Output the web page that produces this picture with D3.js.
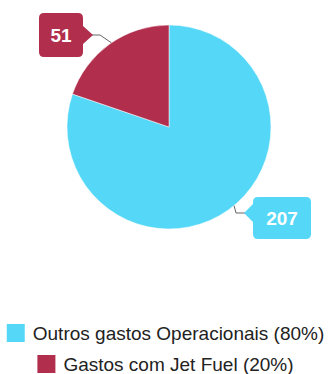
<!DOCTYPE html>
<html>
<head>
<meta charset="utf-8">
<script src="https://cdn.jsdelivr.net/npm/d3@7"></script>
<style>
  html, body { margin: 0; padding: 0; background: #fff; }
  svg { display: block; }
</style>
</head>
<body>
<svg id="chart" width="329" height="374"></svg>
<script>
// Operating cost split
const categories = ["Outros gastos Operacionais", "Gastos com Jet Fuel"];
const values = [207, 51];
const colors = ["#55d8f7", "#b12f4d"];

const W = 329, H = 374;
const cx = 169, cy = 127, R = 102;

const svg = d3.select("#chart");
const total = d3.sum(values);
const data = categories.map((c, i) => ({ name: c, value: values[i], color: colors[i] }));

const pie = d3.pie().sort(null).value(d => d.value);
const arcs = pie(data);
const arc = d3.arc().innerRadius(0).outerRadius(R);

const g = svg.append("g").attr("transform", `translate(${cx},${cy})`);
g.selectAll("path.slice")
  .data(arcs)
  .join("path")
  .attr("class", "slice")
  .attr("d", arc)
  .attr("fill", d => d.data.color)
  .attr("stroke", "#fff")
  .attr("stroke-width", 0.5);

// Callout label boxes with connector lines
const labelFont = "bold 19px 'Liberation Sans', Arial, sans-serif";

function callout(d, opts) {
  const ang = opts.anchorAngle;
  const px = Math.sin(ang) * R, py = -Math.cos(ang) * R;
  const lg = g.append("g");
  lg.append("path")
    .attr("d", `M${px},${py} L${opts.elbow[0]},${opts.elbow[1]} L${opts.tip[0]},${opts.tip[1]}`)
    .attr("fill", "none")
    .attr("stroke", "#666")
    .attr("stroke-width", 1);
  const b = opts.box;
  const r = 5;
  const t = opts.tip, side = opts.side;
  let p;
  if (side === "right") {
    const x1 = b.x + b.w, yA = t[1] - 9, yB = t[1] + 9;
    p = `M${b.x + r},${b.y} H${x1 - r} Q${x1},${b.y} ${x1},${b.y + r} V${yA} L${t[0] + 1},${t[1]} L${x1},${yB} V${b.y + b.h - r} Q${x1},${b.y + b.h} ${x1 - r},${b.y + b.h} H${b.x + r} Q${b.x},${b.y + b.h} ${b.x},${b.y + b.h - r} V${b.y + r} Q${b.x},${b.y} ${b.x + r},${b.y} Z`;
  } else {
    const x0 = b.x, yA = t[1] - 9, yB = t[1] + 9;
    p = `M${b.x + r},${b.y} H${b.x + b.w - r} Q${b.x + b.w},${b.y} ${b.x + b.w},${b.y + r} V${b.y + b.h - r} Q${b.x + b.w},${b.y + b.h} ${b.x + b.w - r},${b.y + b.h} H${b.x + r} Q${b.x},${b.y + b.h} ${b.x},${b.y + b.h - r} V${yB} L${t[0] - 1},${t[1]} L${x0},${yA} V${b.y + r} Q${b.x},${b.y} ${b.x + r},${b.y} Z`;
  }
  lg.append("path").attr("d", p).attr("fill", d.data.color);
  lg.append("text")
    .attr("x", b.x + b.w / 2)
    .attr("y", b.y + b.h / 2)
    .attr("dy", "0.36em")
    .attr("text-anchor", "middle")
    .attr("fill", "#fff")
    .style("font", labelFont)
    .text(d3.format("d")(d.data.value));
}

// Jet Fuel label (upper left)
callout(arcs[1], {
  anchorAngle: -0.60,
  elbow: [100 - cx, 35 - cy],
  tip: [92 - cx, 35 - cy],
  box: { x: 39 - cx, y: 13 - cy, w: 44, h: 44 },
  side: "right"
});
// Other costs label (lower right)
callout(arcs[0], {
  anchorAngle: 2.45,
  elbow: [236 - cx, 213 - cy],
  tip: [245 - cx, 213 - cy],
  box: { x: 253 - cx, y: 197 - cy, w: 58, h: 42 },
  side: "left"
});

// Legend, one centred row per category
const legendFont = "19px 'Liberation Sans', Arial, sans-serif";
const rows = [333, 364];
data.forEach((d, i) => {
  const label = `${d.name} (${d3.format(".0%")(d.value / total)})`;
  const lg = svg.append("g");
  const txt = lg.append("text")
    .attr("y", rows[i])
    .attr("dy", "0.36em")
    .attr("fill", "#222")
    .style("font", legendFont)
    .text(label);
  const tw = txt.node().getComputedTextLength();
  const sq = 18, gap = 8;
  const totalW = sq + gap + tw;
  const x0 = (W - totalW) / 2 + 1;
  lg.append("rect")
    .attr("x", x0).attr("y", rows[i] - sq / 2)
    .attr("width", sq).attr("height", sq)
    .attr("fill", d.color);
  txt.attr("x", x0 + sq + gap);
});
</script>
</body>
</html>
